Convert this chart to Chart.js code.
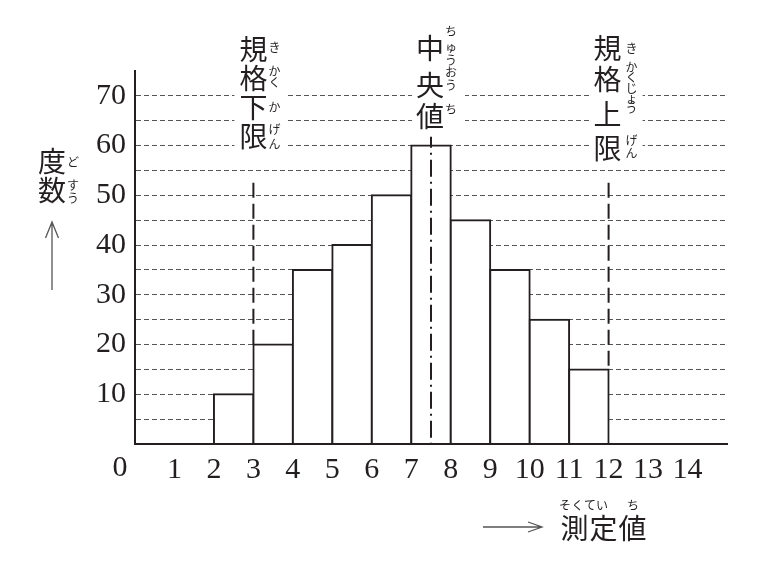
<!DOCTYPE html>
<html><head><meta charset="utf-8">
<script src="https://cdn.jsdelivr.net/npm/chart.js@4.4.1/dist/chart.umd.min.js"></script>
<style>html,body{margin:0;padding:0;background:#fff;}#wrap{width:765px;height:570px;}</style>
</head><body><div id="wrap"><canvas id="c" width="765" height="570"></canvas></div>
<script>
// ---- data ----
const binStarts = [2, 3, 4, 5, 6, 7, 8, 9, 10, 11];
const frequencies = [10, 20, 35, 40, 50, 60, 45, 35, 25, 15];
const xTickLabels = ['0','1','2','3','4','5','6','7','8','9','10','11','12','13','14'];
const yTickLabels = ['10','20','30','40','50','60','70'];
const lowerSpecLimit = 3;
const upperSpecLimit = 12;
const medianValue = 7.5;
const lowerLabel = '規格下限', lowerRuby = 'きかくかげん';
const medianLabel = '中央値', medianRuby = 'ちゅうおうち';
const upperLabel = '規格上限', upperRuby = 'きかくじょうげん';
const yTitle = '度数', yTitleRuby = 'どすう';
const xTitle = '測定値', xTitleRuby = 'そくていち';

const INK = '#231f20';
const CJK = '"Noto Sans CJK JP", sans-serif';
const SERIF = '"Liberation Serif", "DejaVu Serif", serif';

function vText(ctx, str, x, ys, size) {
  ctx.font = size + 'px ' + CJK;
  ctx.textAlign = 'center';
  ctx.textBaseline = 'middle';
  [...str].forEach((ch, i) => ctx.fillText(ch, x, ys[i]));
}

const annotate = {
  id: 'annotate',
  afterDatasetsDraw(chart) {
    const ctx = chart.ctx;
    const xs = chart.scales.x, ys = chart.scales.y;
    const area = chart.chartArea;
    ctx.save();
    ctx.strokeStyle = INK;
    ctx.lineWidth = 2;
    // spec limit dashed lines
    ctx.setLineDash([15, 6]);
    const lx = xs.getPixelForValue(lowerSpecLimit);
    ctx.beginPath();
    ctx.moveTo(lx, 182.7);
    ctx.lineTo(lx, ys.getPixelForValue(frequencies[binStarts.indexOf(lowerSpecLimit)]));
    ctx.stroke();
    const ux = xs.getPixelForValue(upperSpecLimit);
    ctx.beginPath();
    ctx.moveTo(ux, 182.7);
    ctx.lineTo(ux, ys.getPixelForValue(frequencies[binStarts.indexOf(upperSpecLimit - 1)]));
    ctx.stroke();
    // median dash-dot line
    ctx.setLineDash([17, 5, 2, 5]);
    ctx.lineDashOffset = 6;
    const mx = xs.getPixelForValue(medianValue);
    ctx.beginPath();
    ctx.moveTo(mx, 136.7);
    ctx.lineTo(mx, area.bottom);
    ctx.stroke();
    ctx.setLineDash([]);

    // white boxes behind labels
    ctx.fillStyle = '#fff';
    ctx.fillRect(lx - 19, 25, 53, 130);
    ctx.fillRect(mx - 19, 15, 53, 117);
    ctx.fillRect(ux - 19, 30, 53, 136);

    ctx.fillStyle = INK;
    // lower spec label
    vText(ctx, lowerLabel, lx, [49, 78, 107.5, 136.5], 28);
    vText(ctx, lowerRuby, lx + 21, [47.5, 71, 82, 107, 129, 144], 12);
    // median label
    vText(ctx, medianLabel, mx - 1, [48, 85, 116.5], 28);
    vText(ctx, medianRuby, mx + 20, [31, 47, 60, 72.5, 85, 109], 12);
    // upper spec label
    vText(ctx, upperLabel, ux - 1, [48.5, 79.5, 114, 148.5], 28);
    vText(ctx, upperRuby, ux + 23, [48, 67.5, 77.5, 88, 98.5, 108, 140, 153], 12);

    // y-axis title
    vText(ctx, yTitle, 52, [161.5, 190], 28);
    vText(ctx, yTitleRuby, 73, [162.5, 185, 198], 12);
    // up arrow
    ctx.strokeStyle = '#555';
    ctx.lineWidth = 1.3;
    ctx.beginPath();
    ctx.moveTo(52, 222); ctx.lineTo(52, 290);
    ctx.moveTo(45.5, 238); ctx.lineTo(52, 222); ctx.lineTo(58.5, 238);
    ctx.stroke();
    // x-axis title arrow
    ctx.beginPath();
    ctx.moveTo(483, 527); ctx.lineTo(542, 527);
    ctx.moveTo(528, 522); ctx.lineTo(542, 527); ctx.lineTo(528, 532);
    ctx.stroke();
    // x-axis title
    ctx.fillStyle = INK;
    ctx.font = '28px ' + CJK;
    ctx.textAlign = 'center';
    ctx.textBaseline = 'middle';
    [...xTitle].forEach((ch, i) => ctx.fillText(ch, 574.5 + i * 29, 528));
    ctx.font = '12px ' + CJK;
    const rx = [565, 577.5, 590, 602, 633];
    [...xTitleRuby].forEach((ch, i) => ctx.fillText(ch, rx[i], 505));
    // origin label
    ctx.font = '30px ' + SERIF;
    ctx.fillText(xTickLabels[0], 120, 468);
    ctx.restore();
  }
};

new Chart(document.getElementById('c'), {
  type: 'bar',
  data: {
    datasets: [{
      data: binStarts.map((b, i) => ({ x: b + 0.5, y: frequencies[i] })),
      backgroundColor: '#ffffff',
      borderColor: INK,
      borderWidth: { top: 2, bottom: 0, left: 2, right: 2 },
      borderSkipped: 'bottom',
      inflateAmount: 1,
      barPercentage: 1,
      categoryPercentage: 1
    }]
  },
  options: {
    responsive: false,
    animation: false,
    devicePixelRatio: 1,
    layout: { padding: { top: 71, right: 38, left: 0, bottom: 0 } },
    plugins: { legend: { display: false }, tooltip: { enabled: false } },
    scales: {
      x: {
        type: 'linear', min: 0, max: 15, offset: false,
        grid: { display: false, drawTicks: false },
        border: { display: true, color: INK, width: 2, z: 1 },
        ticks: {
          stepSize: 1, autoSkip: false, maxRotation: 0, padding: 8,
          color: INK, font: { family: SERIF, size: 30 },
          callback: (v) => (v >= 1 && v <= 14) ? xTickLabels[v] : ''
        },
        afterFit: (s) => { s.height = 126; }
      },
      y: {
        min: 0, max: 75,
        grid: {
          drawTicks: false, lineWidth: 1,
          color: (c) => (c.tick && c.tick.value > 0 && c.tick.value < 75) ? '#555' : 'rgba(0,0,0,0)'
        },
        border: { display: true, color: INK, width: 2, dash: [5, 3] },
        ticks: {
          stepSize: 5, autoSkip: false, padding: 9, color: INK, font: { family: SERIF, size: 30 },
          callback: (v) => (v % 10 === 0 && v >= 10 && v <= 70) ? yTickLabels[v / 10 - 1] : ''
        },
        afterFit: (s) => { s.width = 135; }
      }
    }
  },
  plugins: [annotate]
});
</script></body></html>
